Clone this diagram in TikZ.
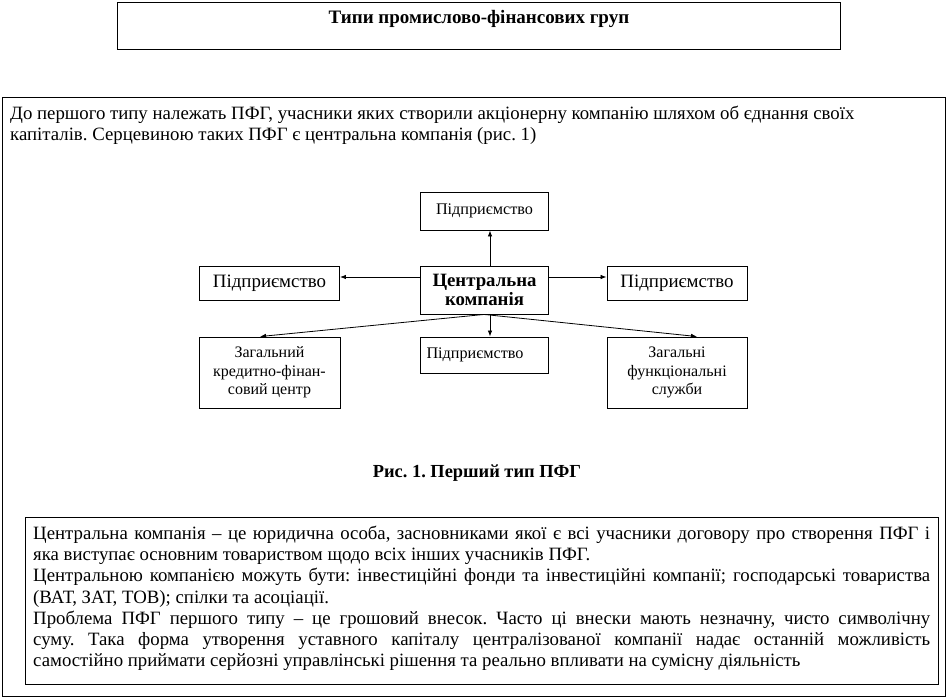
\documentclass[tikz,border=0pt]{standalone}
\usepackage{fontspec}
\setmainfont{Liberation Serif}
\usetikzlibrary{arrows.meta}
\frenchspacing
\begin{document}
\begin{tikzpicture}[x=1pt,y=-1pt,
  box/.style={draw, line width=0.9pt, inner sep=0pt, align=center},
  frame/.style={draw, line width=0.9pt, inner sep=0pt},
  arr/.style={-{Latex[length=6pt,width=4.5pt]}, line width=0.8pt},
  big/.style={font=\fontsize{18.8}{21.3}\selectfont},
  mid/.style={font=\fontsize{18.9}{21}\selectfont},
  small/.style={font=\fontsize{16}{18.5}\selectfont}]
\useasboundingbox (0,0) rectangle (947,698);
% title
\node[frame, anchor=north west, minimum width=723, minimum height=47,
      font=\bfseries\fontsize{19}{22}\selectfont, text height=21, text depth=26] (title) at (117,2) {Типи промислово-фінансових груп};
% big frame
\node[frame, anchor=north west, minimum width=943, minimum height=599] (frame) at (2,97) {};
\node[big, anchor=north west, align=left, inner sep=0pt] (intro) at (10,106)
  {До першого типу належать ПФГ, учасники яких створили акціонерну компанію шляхом об єднання своїх\\
   капіталів. Серцевиною таких ПФГ є центральна компанія (рис. 1)};
% diagram
\node[box, font=\fontsize{16.2}{19}\selectfont, minimum width=128, minimum height=38, text height=12, text depth=6] (top) at (484.5,211) {Підприємство};
\node[box, font=\bfseries\fontsize{18.8}{19.5}\selectfont, minimum width=128, minimum height=48] (center) at (484.5,290) {Центральна\\компанія};
\node[box, mid, minimum width=140, minimum height=34] (left) at (269.5,283.5) {Підприємство};
\node[box, mid, minimum width=140, minimum height=34] (right) at (677,283) {Підприємство};
\node[box, small, minimum width=141, minimum height=71] (bl) at (269.5,372.5) {Загальний\\кредитно-фінан-\\совий центр};
\node[box, font=\fontsize{16.2}{19}\selectfont, minimum width=128, minimum height=36, text width=116, align=left] (bm) at (484.5,355) {Підприємство};
\node[box, small, minimum width=140, minimum height=71] (br) at (677,372.5) {Загальні\\функціональні\\служби};
\draw[arr] (center.north -| 490,0) -- (top.south -| 490,0);
\draw[arr] (center.west |- 0,277) -- (left.east |- 0,277);
\draw[arr] (center.east |- 0,277) -- (right.west |- 0,277);
\draw[arr] (center.south -| 490,0) -- (bm.north -| 490,0);
\draw[arr] (center.south -| 484,0) -- (bl.north -| 260,0);
\draw[arr] (center.south -| 484,0) -- (br.north -| 697,0);
% caption
\node[font=\bfseries\fontsize{18.4}{20}\selectfont] (caption) at (477,473) {Рис. 1. Перший тип ПФГ};
% inner text box
\node[frame, anchor=north west, minimum width=913, minimum height=167] (inner) at (25,517) {};
\node[big, anchor=north west, align=left, inner sep=0pt] (innertext) at (33,525.5) {%
\makebox[897pt][s]{Центральна компанія – це юридична особа, засновниками якої є всі учасники договору про створення ПФГ і}\\
\makebox[897pt][l]{яка виступає основним товариством щодо всіх інших учасників ПФГ.}\\
\makebox[897pt][s]{Центральною компанією можуть бути: інвестиційні фонди та інвестиційні компанії; господарські товариства}\\
\makebox[897pt][l]{(ВАТ, ЗАТ, ТОВ); спілки та асоціації.}\\
\makebox[897pt][s]{Проблема ПФГ першого типу – це грошовий внесок. Часто ці внески мають незначну, чисто символічну}\\
\makebox[897pt][s]{суму. Така форма утворення уставного капіталу централізованої компанії надає останній можливість}\\
\makebox[897pt][l]{самостійно приймати серйозні управлінські рішення та реально впливати на сумісну діяльність}};
\end{tikzpicture}
\end{document}
